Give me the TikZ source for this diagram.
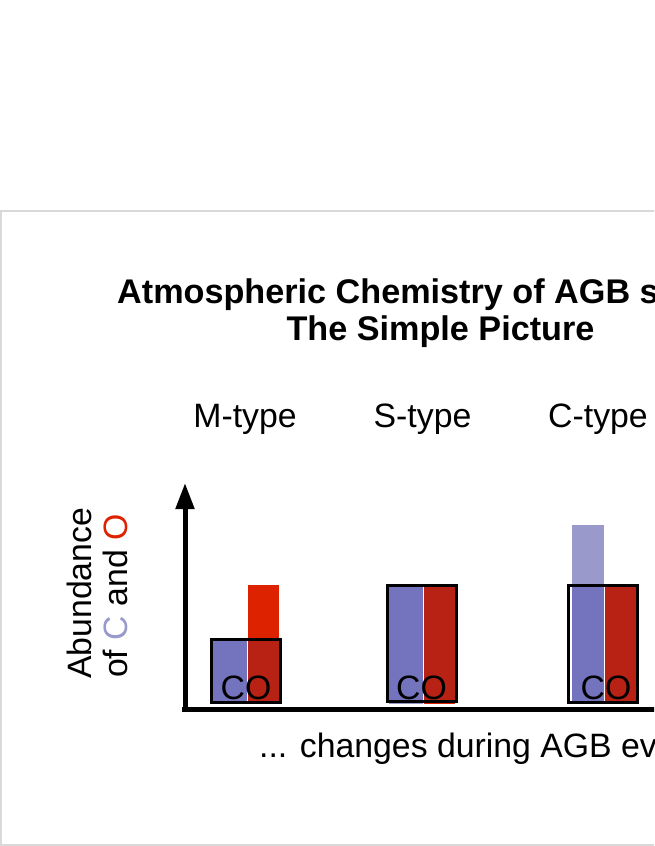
\documentclass[tikz,border=0pt]{standalone}
\usepackage{fontspec}
\setmainfont{Liberation Sans}
\usetikzlibrary{arrows.meta}
\definecolor{cblue}{HTML}{9999CC}
\definecolor{cblueD}{HTML}{7474BE}
\definecolor{ored}{HTML}{DD2200}
\definecolor{oredD}{HTML}{B82214}
\definecolor{framegray}{HTML}{D9D9D9}
\begin{document}
\begin{tikzpicture}[x=1pt,y=-1pt,
  big/.style={font=\fontsize{33.8}{40}\selectfont, inner sep=0pt},
  bigbold/.style={font=\fontsize{34.2}{40}\selectfont\bfseries, inner sep=0pt},
  cobox/.style={draw=black, line width=3pt},
  axis/.style={line width=5pt}]
\useasboundingbox (0,0) rectangle (654,846);
\clip (0,0) rectangle (654,846);
\draw[framegray, line width=1.5pt] (1,211) rectangle (720,845);
% title
\node[bigbold, anchor=base west] (t1) at (117,303) {Atmospheric Chemistry of AGB stars:};
\node[bigbold, anchor=base] (t2) at (440.5,340) {The Simple Picture};
% types
\node[big, anchor=base] (mt) at (245,427) {M-type};
\node[big, anchor=base] (st) at (422.5,427) {S-type};
\node[big, anchor=base] (ct) at (598,427) {C-type};
% M-type bars
\fill[cblue] (213,640) rectangle (247,704);
\fill[ored] (248,585) rectangle (279,704);
\fill[cblueD] (213,640) rectangle (247,702);
\fill[oredD] (248,640) rectangle (279,702);
\draw[cobox] (211,639) rectangle (280,702);
\node[big, anchor=base] (co1) at (246,699) {CO};
% S-type bars
\fill[cblue] (389,586) rectangle (423,704);
\fill[ored] (424,586) rectangle (455,704);
\fill[cblueD] (389,586) rectangle (423,701);
\fill[oredD] (424,586) rectangle (455,701);
\draw[cobox] (387,585) rectangle (456,701);
\node[big, anchor=base] (co2) at (421.5,699) {CO};
% C-type bars
\fill[cblue] (572,525) rectangle (604,704);
\fill[ored] (605,586) rectangle (636,704);
\fill[cblueD] (572,586) rectangle (604,702);
\fill[oredD] (605,586) rectangle (636,702);
\draw[cobox] (568,585) rectangle (637,702);
\node[big, anchor=base] (co3) at (606,699) {CO};
% axes
\coordinate (o) at (185,709);
\coordinate (xs) at (182,709);
\coordinate (xe) at (720,709);
\coordinate (yt) at (185,483);
\draw[axis] (xs) -- (xe);
\draw[axis, -{Triangle[width=18pt,length=26pt]}] (o) -- (yt);
% axis labels
\node[big, rotate=90, anchor=base west] (ab) at (91,679) {Abundance};
\node[big, rotate=90, anchor=base west] (of) at (127.5,678) {of \textcolor{cblue}{C} and \textcolor{ored}{O}};
\node[big, anchor=base west] (ch) at (259,757) {... changes during AGB evolution};
\end{tikzpicture}
\end{document}
